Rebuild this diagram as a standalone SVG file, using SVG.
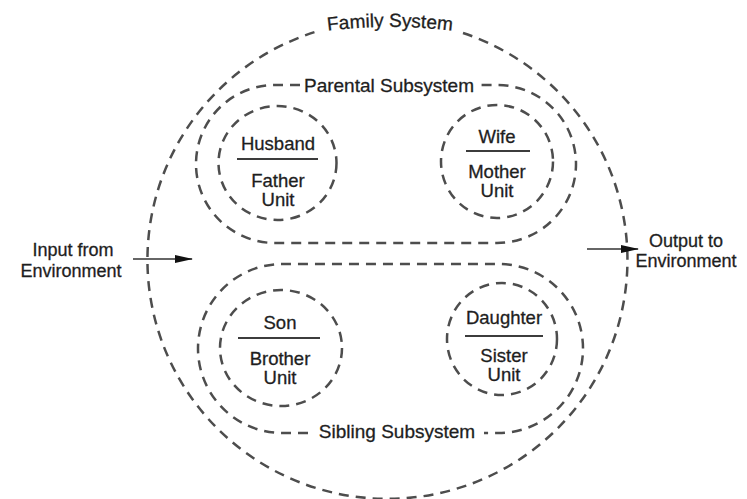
<svg xmlns="http://www.w3.org/2000/svg" width="747" height="499" viewBox="0 0 747 499">
  <defs>
    <style>
      .dash { fill: none; stroke: #4d4d4d; stroke-width: 2.5; stroke-dasharray: 10 7; }
      .rule { stroke: #3c3c3c; stroke-width: 2.2; }
      .lbl { font-family: "Liberation Sans", Arial, sans-serif; font-size: 18.5px; fill: #1e1e1e; stroke: #1e1e1e; stroke-width: 0.3; text-anchor: middle; }
      .env { font-size: 18px; }
      .big { font-size: 19px; }
      .flow { stroke: #333; stroke-width: 1.5; fill: none; }
    </style>
    <marker id="arrowhead" viewBox="0 0 18 8" refX="17" refY="4" markerWidth="18" markerHeight="8" markerUnits="userSpaceOnUse" orient="auto">
      <path d="M0,0 L18,4 L0,8 Z" fill="#111"/>
    </marker>
    <!-- shallow arc carrying the family-system title -->
    <path id="title-arc" d="M 290 37 A 500 500 0 0 1 490 37"/>
  </defs>
  <rect width="747" height="499" fill="#ffffff"/>

  <!-- family system boundary, open at the top for its title -->
  <g id="family-system">
    <path class="dash" d="M 463 33 A 240 239 0 1 1 315 32"/>
    <text class="lbl big"><textPath href="#title-arc" startOffset="50%">Family System</textPath></text>
  </g>

  <!-- parental subsystem, open at the top for its title -->
  <g id="parental-subsystem">
    <path class="dash" d="M 300 85 L 275 85 A 79 79 0 0 0 275 243 L 497 243 A 79 79 0 0 0 497 85 L 480 85"/>
    <text class="lbl big" x="389" y="92">Parental Subsystem</text>
  </g>

  <!-- sibling subsystem, open at the bottom for its title -->
  <g id="sibling-subsystem">
    <path class="dash" d="M 308 433 L 282.5 433 A 84.5 84.5 0 0 1 282.5 264 L 498.5 264 A 84.5 84.5 0 0 1 498.5 433 L 484 433"/>
    <text class="lbl big" x="397" y="438">Sibling Subsystem</text>
  </g>

  <g id="husband-father">
    <ellipse class="dash" cx="277.5" cy="163" rx="59" ry="57"/>
    <text class="lbl" x="278" y="150">Husband</text>
    <line class="rule" x1="237" y1="159" x2="318" y2="159"/>
    <text class="lbl" x="278" y="187">Father</text>
    <text class="lbl" x="278" y="206">Unit</text>
  </g>

  <g id="wife-mother">
    <ellipse class="dash" cx="497" cy="161.5" rx="56" ry="56.5"/>
    <text class="lbl" x="497" y="143">Wife</text>
    <line class="rule" x1="466" y1="151" x2="530" y2="151"/>
    <text class="lbl" x="497" y="178">Mother</text>
    <text class="lbl" x="497" y="197">Unit</text>
  </g>

  <g id="son-brother">
    <ellipse class="dash" cx="281" cy="348" rx="61" ry="58"/>
    <text class="lbl" x="280" y="329">Son</text>
    <line class="rule" x1="238" y1="338" x2="320" y2="338"/>
    <text class="lbl" x="280" y="365">Brother</text>
    <text class="lbl" x="280" y="384">Unit</text>
  </g>

  <g id="daughter-sister">
    <ellipse class="dash" cx="502" cy="339" rx="55" ry="56"/>
    <text class="lbl" x="504" y="324">Daughter</text>
    <line class="rule" x1="465" y1="336" x2="543" y2="336"/>
    <text class="lbl" x="504" y="362">Sister</text>
    <text class="lbl" x="504" y="381">Unit</text>
  </g>

  <g id="environment-in">
    <text class="lbl env" x="73" y="256">Input from</text>
    <text class="lbl env" x="71" y="277">Environment</text>
  </g>

  <g id="environment-out">
    <text class="lbl env" x="686" y="247">Output to</text>
    <text class="lbl env" x="686" y="267">Environment</text>
  </g>

  <g id="connectors">
    <line class="flow" x1="133" y1="259" x2="192" y2="259" marker-end="url(#arrowhead)"/>
    <line class="flow" x1="587" y1="249" x2="638" y2="249" marker-end="url(#arrowhead)"/>
  </g>
</svg>
